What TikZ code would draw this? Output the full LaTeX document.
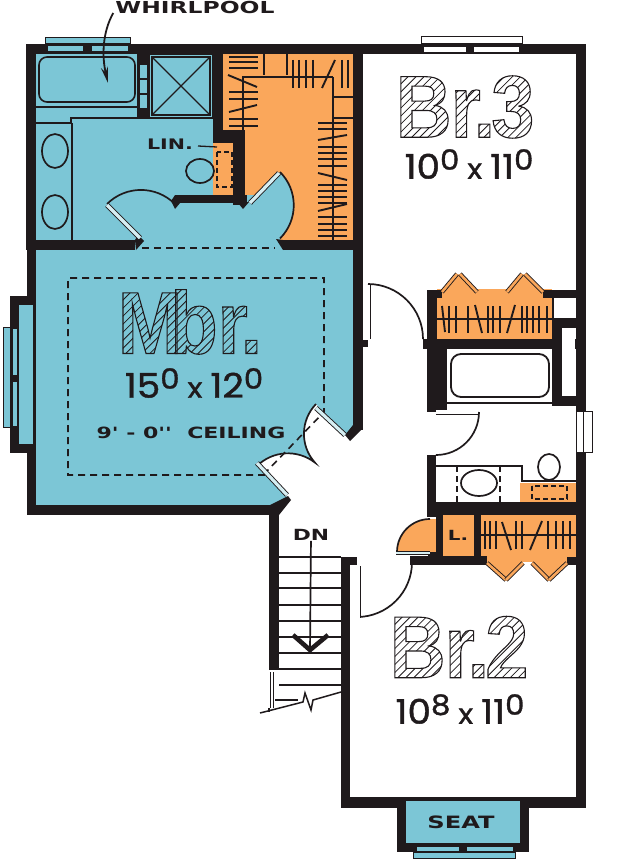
\documentclass[tikz,border=0pt]{standalone}
\usepackage{fontspec}
\usepackage{tikz}
\usetikzlibrary{arrows.meta}
\definecolor{inkc}{HTML}{1F1A1C}
\definecolor{bluec}{HTML}{7CC6D6}
\definecolor{orangec}{HTML}{FAA75B}
\definecolor{paleb}{HTML}{D6EEF2}
\newfontfamily\bigfont[FakeStretch=0.88]{Liberation Sans Bold}
\newfontfamily\labelfont[FakeStretch=1.42]{DejaVu Sans Bold}
\newfontfamily\dimfont[FakeStretch=1.1,FakeBold=1.2]{Poppins}
% hatch lines for the room names, raw pdf path
\newcount\hatchn
\def\hatchlines{}
\hatchn=-100
\loop\ifnum\hatchn<220
  \xdef\hatchlines{\hatchlines \the\hatchn\space -20 m \the\numexpr\hatchn+110\relax\space 90 l }
  \advance\hatchn 8
\repeat
\newcommand\hatchword[1]{\hbox{%
  \special{pdf:bcontent}\special{pdf:code 7 Tr}\rlap{\fontsize{88}{88}\bigfont #1}\special{pdf:content 0.8 w \hatchlines S}\special{pdf:econtent}%
  \special{pdf:bcontent}\special{pdf:code 1 Tr 1.1 w}\rlap{\fontsize{88}{88}\bigfont #1}\special{pdf:econtent}%
  \phantom{\fontsize{88}{88}\bigfont #1}}}
\newcommand\roomsize[4]{\fontsize{34}{34}\dimfont #1\raisebox{9pt}{\fontsize{28}{28}\selectfont #2}\kern8pt\raisebox{0pt}{\fontsize{28}{28}\selectfont x}\kern8pt #3\raisebox{9pt}{\fontsize{28}{28}\selectfont #4}}
\begin{document}
\begin{tikzpicture}[x=1pt,y=-1pt,line join=miter]
  \tikzstyle{wall} = [fill=inkc]
  \tikzstyle{thinline} = [draw=inkc,line width=1.3pt]
  \tikzstyle{swing} = [draw=inkc,line width=1.7pt]
  \tikzstyle{tick} = [draw=inkc,line width=1.9pt]
  \tikzstyle{dashline} = [draw=inkc,line width=1.6pt,dash pattern=on 7pt off 5pt]
  \tikzstyle{pane} = [draw=inkc,line width=1pt]
  \tikzstyle{leaf} = [draw=inkc,line width=.9pt,double=white,double distance=3.2pt]
  \tikzstyle{word} = [inner sep=0pt,text=inkc,font=\labelfont]
  \useasboundingbox (0,0) rectangle (625,861);

  % floors
  \fill[orangec] (223,54) rectangle (353,245);
  \fill[bluec] (36,54) rectangle (213,205);
  \fill[bluec] (36,195) rectangle (280,250);
  \fill[bluec] (247,205) -- (280,172) arc[start angle=45,end angle=-45,radius=47pt] -- cycle;
  \fill[bluec] (36,245) -- (353,245) -- (353,427) -- (345,435) -- (316,404)
     arc[start angle=136,end angle=222,radius=43pt]
     arc[start angle=52,end angle=135,radius=44pt]
     -- (287,497) -- (279,505) -- (36,505) -- cycle;
  \fill[orangec] (213,143) rectangle (234,195);
  \fill[orangec] (437,289) rectangle (552,339);
  \fill[orangec] (442,292) -- (458,274) -- (476,292) -- cycle;
  \fill[orangec] (507,292) -- (523,274) -- (543,292) -- cycle;
  \fill[orangec] (520,483) rectangle (576,502);
  \fill[orangec] (436,552) -- (397,552) arc[start angle=180,end angle=90,radius=33pt] -- (436,519) -- cycle;
  \fill[orangec] (436,515) rectangle (474,556);
  \fill[orangec] (481,515) rectangle (576,562);
  \fill[orangec] (487,562) -- (506,580) -- (523,562) -- cycle;
  \fill[orangec] (532,562) -- (549,580) -- (567,562) -- cycle;

  % walls
  \foreach \xa/\ya/\xb/\yb in {26/44/586/54,26/44/36/250,27/250/36/515,27/505/279/515,
      269/505/279/670,36/240/135/250,283/240/363/250,353/54/363/430,137/54/149/118,
      213/54/223/143,213/130/245/143,233/130/245/205,175/195/247/203,
      10/296/36/453,363/340/368/347,
      427/290/442/298,427/290/437/339,423/339/577/349,427/339/447/412,543/290/576/298,
      552/298/554/318,552/318/576/328,552/318/562/406,552/396/576/406,
      427/455/436/517,427/502/576/515,436/515/442/556,410/556/487/565,474/515/481/565,
      567/557/576/565,341/557/350/808,341/557/357/565,341/797/586/808,576/44/586/808,
      397/808/529/852,428/552/436/556}{
    \fill[wall] (\xa,\ya) rectangle (\xb,\yb);
  }
  \fill[wall] (135,240) -- (138,235) -- (144,241) -- (136,250) -- cycle;
  \fill[wall] (283,240) -- (276,239) -- (283,250) -- cycle;
  \fill[wall] (175,195) -- (171,201) -- (175,209) -- (180,203) -- cycle;
  \fill[wall] (238,203) -- (243,209) -- (249,202) -- cycle;
  \fill[wall] (270,505) -- (288,496) -- (291,500) -- (279,515) -- cycle;
  \fill[wall] (353,425) -- (345,435) -- (350,441) -- (363,428) -- cycle;

  % windows and bays
  \fill[bluec] (19,305) rectangle (33,444);
  \fill[bluec] (406,801) rectangle (520,843);
  \filldraw[pane,fill=bluec] (45,38) rectangle (130,44);
  \filldraw[pane,fill=bluec] (47,46) rectangle (83,52);
  \filldraw[pane,fill=bluec] (91,46) rectangle (128,52);
  \filldraw[pane,fill=bluec] (3,327) rectangle (10,427);
  \filldraw[pane,fill=bluec] (12,328) rectangle (17,375);
  \filldraw[pane,fill=bluec] (12,381) rectangle (17,426);
  \filldraw[pane,fill=bluec] (416,846) rectangle (459,851);
  \filldraw[pane,fill=bluec] (466,846) rectangle (513,851);
  \filldraw[pane,fill=bluec] (413,852) rectangle (515,858);
  \filldraw[pane,fill=white] (421,37) rectangle (522,44);
  \filldraw[pane,fill=white] (423,47) rectangle (466,53);
  \filldraw[pane,fill=white] (473,47) rectangle (519,53);
  \filldraw[pane,fill=white] (576,411) rectangle (583,452);
  \filldraw[pane,fill=white] (583,411) rectangle (592,452);
  \fill[white] (554,299) rectangle (576,318);
  \fill[white] (562,328) rectangle (575,396);

  % master bath
  \draw[thinline,line width=1.6pt,rounded corners=8pt] (39,57) rectangle (135,102);
  \draw[thinline] (36,107) -- (138,107);
  \draw[thinline] (36,123) -- (71,123) -- (71,118) -- (213,118);
  \draw[thinline] (72,123) -- (72,240);
  \draw[thinline,line width=1.7pt] (55,151) ellipse[x radius=13pt,y radius=17pt];
  \draw[thinline,line width=1.7pt] (55,212) ellipse[x radius=13pt,y radius=17pt];
  \draw[thinline,line width=1.7pt] (200,171) ellipse[x radius=14pt,y radius=12pt];
  \foreach \a in {65,80,95}{
    \fill[bluec] (140,\a) rectangle (147,\a+13);
  }
  \draw[thinline] (152,57) rectangle (210,115);
  \draw[thinline] (149,54) rectangle (213,118);
  \draw[thinline] (152,57) -- (210,115) (210,57) -- (152,115);
  \draw[dashline,dash pattern=on 5pt off 3pt] (217,152) rectangle (232,187);
  \draw[swing] (107,204) arc[start angle=135,end angle=45,radius=48pt];
  \draw[leaf,double=paleb] (107,205) -- (140,238);
  \draw[swing] (280,172) arc[start angle=45,end angle=-45,radius=47pt];
  \draw[leaf,double=paleb] (279,173) -- (250,203);
  \draw[dashline] (142,248) -- (275,248);

  % master closet, rods and hangers
  \draw[thinline,line width=2pt] (243,130) -- (243,77) -- (333,77);
  \draw[thinline,line width=2.5pt] (333,77) -- (333,240);
  \draw[thinline] (264,54) -- (264,75) (287,54) -- (287,75);
  \draw[thinline] (333,97) -- (353,97) (333,118) -- (353,118);
  \foreach \a in {57,62,68,92,99,119,126}{
    \draw[tick] (229,\a) -- (258,\a);
  }
  \draw[tick] (228,75) -- (257,87) (229,112) -- (257,105);
  \foreach \a in {293,299,306,313,342,348}{
    \draw[tick] (\a,60) -- (\a,88);
  }
  \draw[tick] (335,60) -- (322,88);
  \foreach \a in {123,129,147,153,159,166,185,191,197,203,217,224,230,236}{
    \draw[tick] (318,\a) -- (347,\a);
  }
  \draw[tick] (318,140) -- (347,135) (318,173) -- (347,180) (318,211) -- (347,204);

  % master bedroom
  \draw[dashline] (265,475) -- (68,475) -- (68,278) -- (324,278) -- (324,412) -- (265,473);
  \draw[swing] (316,404) arc[start angle=136,end angle=222,radius=43pt]
     arc[start angle=52,end angle=135,radius=44pt];
  \draw[leaf,double=paleb] (257,463) -- (287,495);
  \draw[leaf,double=paleb] (316,408) -- (345,435);

  % stairs
  \foreach \a in {557,573,588,605,621,637,653,669,685}{
    \draw[thinline,line width=1.6pt] (279,\a) -- (341,\a);
  }
  \draw[leaf,double distance=2.6pt] (272,672) -- (272,708);
  \draw[thinline,line width=2pt] (269,708) -- (269,712);
  \draw[thinline] (275,700) -- (298,700);
  \draw[thinline,line width=1.5pt] (260,713) -- (303,702) -- (305,693) -- (311,710) -- (313,700) -- (341,692);
  \node (dn) [word,font=\fontsize{16}{16}\labelfont,scale=.96] at (311,535) {DN};
  \coordinate (dnend) at (310,652);
  \draw[thinline,line width=1.7pt] (dn) -- (dnend);
  \draw[draw=inkc,line width=4.6pt] (293,635) -- (310,650) -- (328,635);

  % hall bath and closets
  \draw[thinline,line width=1.8pt,rounded corners=10pt] (451,354) rectangle (549,397);
  \draw[thinline] (446,403) -- (552,403);
  \draw[swing] (368,284) arc[start angle=90,end angle=0,radius=55pt];
  \draw[leaf] (368,285) -- (368,339);
  \draw[swing] (479,412) arc[start angle=0,end angle=-90,radius=43pt];
  \draw[leaf] (436,412) -- (478,412);
  \draw[thinline] (436,466) -- (522,466) -- (522,481) -- (576,481);
  \draw[thinline,line width=1.7pt] (479,483) ellipse[x radius=18pt,y radius=13pt];
  \draw[thinline,line width=1.7pt] (549,467) ellipse[x radius=11pt,y radius=13pt];
  \draw[dashline,dash pattern=on 6pt off 4pt] (457,466) -- (457,502) (500,466) -- (500,502);
  \draw[dashline,dash pattern=on 5pt off 3pt] (532,486) rectangle (567,499);
  \draw[thinline,line width=1.8pt] (437,319) -- (552,319);
  \foreach \a in {298,318,355,415,430,450,515,530,548,568,590}{
    \draw[tick] (350+\a/3,306) -- (350+\a/3,333);
  }
  \draw[tick] (442,306) -- (445,332) (475,305) -- (482,333) (515,305) -- (507,333);
  \foreach \xa/\ya/\xb/\yb in {442/292/457/274,460/274/477/292,507/292/522/274,525/274/543/292,
      487/563/506/580,506/580/523/563,532/563/549/580,549/580/567/563}{
    \draw[leaf,double=orangec,double distance=2.6pt] (\xa,\ya) -- (\xb,\yb);
  }
  \draw[swing] (430,519) arc[start angle=90,end angle=180,radius=33pt];
  \draw[leaf,double=paleb,double distance=2pt] (396,553) -- (430,553);
  \draw[swing] (357,617) arc[start angle=-90,end angle=0,radius=55pt];
  \draw[leaf] (358,566) -- (358,618);
  \draw[thinline] (442,515) -- (442,556);
  \draw[thinline,line width=1.8pt] (481,535) -- (576,535);
  \foreach \a in {405,420,437,497,515,595,618,640,660}{
    \draw[tick] (350+\a/3,521) -- (350+\a/3,549);
  }
  \draw[tick] (502,522) -- (511,550) (542,521) -- (530,550);

  % labels
  \node (whirl) [word,font=\fontsize{16.5}{17}\labelfont] at (195,7) {WHIRLPOOL};
  \coordinate (tubend) at (108,83);
  \draw[thinline,line width=1.8pt,-{Stealth[length=16pt,width=7pt]}] (whirl.west) ++(-2,6) .. controls (102,33) and (102,57) .. (tubend);
  \node (lin) [word,font=\fontsize{14.5}{15}\labelfont] at (170,144) {LIN.};
  \coordinate (linend) at (217,147);
  \draw[thinline] (lin) ++(28,2) -- (linend);
  \node (lcl) [word,font=\fontsize{14}{14}\labelfont] at (458,535) {L.};
  \node (seat) [word,font=\fontsize{17}{17}\labelfont] at (461,822) {SEAT};
  \node (mbr) [inner sep=0pt,text=inkc] at (190,322) {\hatchword{M\kern-12pt br\kern-7pt .}};
  \node (mbrsize) [inner sep=0pt,text=inkc] at (194,383) {\roomsize{15}{0}{12}{0}};
  \node (ceil) [word,font=\fontsize{15.5}{15.5}\labelfont] at (191,433) {9' - 0'' \ CEILING};
  \node (brthree) [inner sep=0pt,text=inkc] at (465,107) {\hatchword{B\kern-1pt r\kern-7pt .\kern-4pt 3}};
  \node (brthreesize) [inner sep=0pt,text=inkc] at (469,164) {\roomsize{10}{0}{11}{0}};
  \node (brtwo) [inner sep=0pt,text=inkc] at (459,647) {\hatchword{B\kern-1pt r\kern-7pt .\kern-4pt 2}};
  \node (brtwosize) [inner sep=0pt,text=inkc] at (460,709) {\roomsize{10}{8}{11}{0}};
\end{tikzpicture}
\end{document}
